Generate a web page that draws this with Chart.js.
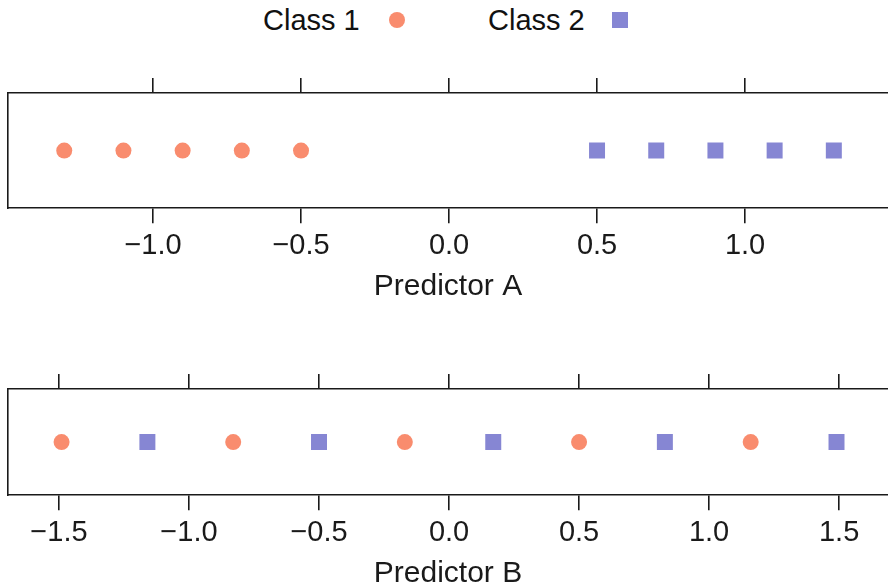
<!DOCTYPE html>
<html><head><meta charset="utf-8">
<script src="https://cdn.jsdelivr.net/npm/chart.js@4.4.1/dist/chart.umd.min.js"></script>
<style>
html,body{margin:0;padding:0;background:#fff;width:888px;height:586px;overflow:hidden;font-family:"Liberation Sans",Arial,sans-serif;}
#legend{position:absolute;left:0;top:0;width:888px;height:44px;font-size:29px;color:#111;}
.item{position:absolute;top:3px;line-height:34px;white-space:nowrap;}
.mk{position:absolute;}
canvas{position:absolute;left:0;}
</style></head><body>
<div id="legend"></div>
<canvas id="cA" width="888" height="251" style="top:60px"></canvas>
<canvas id="cB" width="888" height="258" style="top:340px"></canvas>
<script>
const classNames = ['Class 1', 'Class 2'];
const classColors = ['#F98C6E', '#8686D3'];
const predictorA_class1 = [-1.3, -1.1, -0.9, -0.7, -0.5];
const predictorA_class2 = [0.5, 0.7, 0.9, 1.1, 1.3];
const predictorB_class1 = [-1.49, -0.83, -0.17, 0.5, 1.16];
const predictorB_class2 = [-1.16, -0.5, 0.17, 0.83, 1.49];
const ticksA = [-1.0, -0.5, 0.0, 0.5, 1.0];
const ticksB = [-1.5, -1.0, -0.5, 0.0, 0.5, 1.0, 1.5];
const rangeA = [-1.49, 1.483];
const rangeB = [-1.696, 1.688];
const axisTitles = ['Predictor A', 'Predictor B'];

const FONT = '"Liberation Sans", Arial, sans-serif';
const INK = '#1a1a1a';

// HTML legend (text then marker, as in the reference)
const legend = document.getElementById('legend');
const legendPos = [{text: 263, mk: 389, shape: 'circle'}, {text: 488, mk: 612, shape: 'rect'}];
classNames.forEach((n, i) => {
  const t = document.createElement('span');
  t.className = 'item'; t.textContent = n; t.style.left = legendPos[i].text + 'px';
  legend.appendChild(t);
  const m = document.createElement('span');
  m.className = 'mk';
  m.style.left = legendPos[i].mk + 'px'; m.style.top = '12px';
  m.style.width = '16px'; m.style.height = '16px';
  m.style.background = classColors[i];
  if (legendPos[i].shape === 'circle') m.style.borderRadius = '50%';
  legend.appendChild(m);
});

function fmt(v) {
  const s = Math.abs(v).toFixed(1);
  return (v < -1e-9 ? '\u2212' : '') + s;
}

function makeChart(id, title, c1, c2, tickVals, range, padTop) {
  const setTicks = s => { s.ticks = tickVals.map(v => ({value: v})); };
  const grid = {drawOnChartArea: false, drawTicks: true, tickLength: 15, color: INK, lineWidth: 1.6};
  const border = {display: true, color: INK, width: 1.6};
  return new Chart(document.getElementById(id), {
    type: 'scatter',
    data: {
      datasets: [
        {label: classNames[0], data: c1.map(x => ({x, y: 0})), pointStyle: 'circle', pointRadius: 8,
         backgroundColor: classColors[0], borderWidth: 0, pointHoverRadius: 8},
        {label: classNames[1], data: c2.map(x => ({x, y: 0})), pointStyle: 'rect', pointRadius: 11.3,
         backgroundColor: classColors[1], borderWidth: 0, pointHoverRadius: 11.3}
      ]
    },
    options: {
      responsive: false, animation: false, devicePixelRatio: 1,
      layout: {autoPadding: false, padding: {top: padTop, left: 8, right: 0, bottom: 0}},
      plugins: {legend: {display: false}, tooltip: {enabled: false}},
      scales: {
        x: {type: 'linear', position: 'bottom', min: range[0], max: range[1],
            afterBuildTicks: setTicks, grid, border,
            ticks: {font: {size: 29, family: FONT}, color: INK, padding: 5, maxRotation: 0, autoSkip: false, callback: v => fmt(v)},
            title: {display: true, text: title, font: {size: 30, family: FONT}, color: INK, padding: {top: 1, bottom: 6}}},
        x2: {type: 'linear', position: 'top', min: range[0], max: range[1],
             afterBuildTicks: setTicks, grid, border, ticks: {display: false}},
        y: {min: -1, max: 1, display: true, ticks: {display: false},
            grid: {display: false, drawTicks: false}, border}
      }
    }
  });
}
makeChart('cA', axisTitles[0], predictorA_class1, predictorA_class2, ticksA, rangeA, 18);
makeChart('cB', axisTitles[1], predictorB_class1, predictorB_class2, ticksB, rangeB, 34);
</script>
</body></html>
